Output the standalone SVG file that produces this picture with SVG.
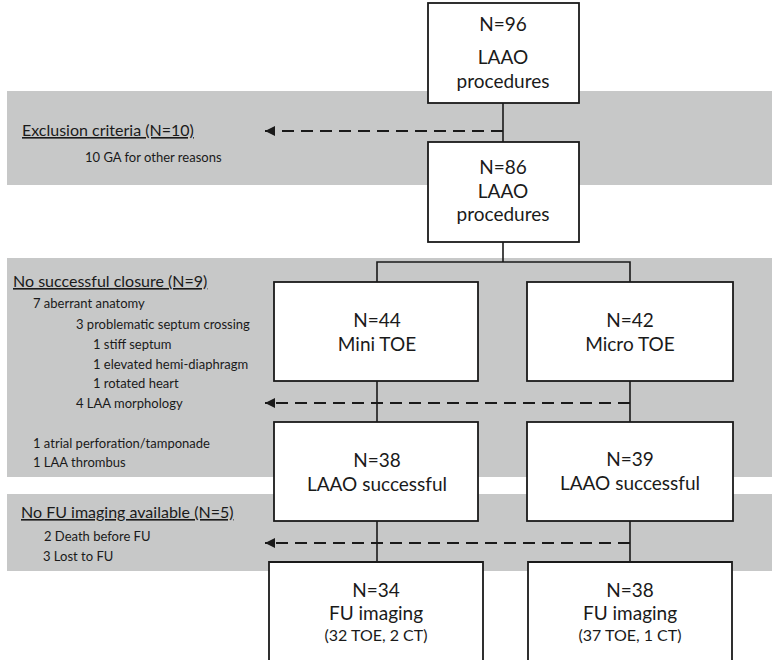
<svg xmlns="http://www.w3.org/2000/svg" width="772" height="660" viewBox="0 0 772 660">
<defs>
<style>
.band{fill:#c7c8c8}
.box{fill:#fff;stroke:#1a1a1a;stroke-width:1.8}
.t{font-family:Lato,"Liberation Sans",sans-serif;fill:#1a1a1a}
.bt{font-size:19px;text-anchor:middle}
.st{font-size:16px;text-anchor:middle}
.h{font-size:16px;text-decoration:underline}
.s{font-size:13px}
.ln{stroke:#1a1a1a;stroke-width:1.6;fill:none}
.dash{stroke:#1a1a1a;stroke-width:2;stroke-dasharray:12 7;fill:none}
</style>
<marker id="ah" viewBox="0 0 10 10" refX="10" refY="5" markerWidth="10" markerHeight="10" markerUnits="userSpaceOnUse" orient="auto">
<path d="M0,0 L10,5 L0,10 z" fill="#1a1a1a"/>
</marker>
</defs>
<g id="bands">
<rect class="band" x="7" y="91" width="765" height="94"/>
<rect class="band" x="7" y="258" width="765" height="219"/>
<rect class="band" x="7" y="494" width="765" height="77"/>
</g>
<g id="connectors">
<line class="ln" x1="503" y1="103" x2="503" y2="142"/>
<line class="dash" x1="503" y1="131" x2="265" y2="131" marker-end="url(#ah)"/>
<polyline class="ln" points="503,242 503,262"/>
<polyline class="ln" points="377,282 377,262 630,262 630,282"/>
<line class="ln" x1="377" y1="381" x2="377" y2="422"/>
<line class="ln" x1="630" y1="381" x2="630" y2="422"/>
<line class="dash" x1="630" y1="403" x2="265" y2="403" marker-end="url(#ah)"/>
<line class="ln" x1="377" y1="521" x2="377" y2="562"/>
<line class="ln" x1="630" y1="521" x2="630" y2="562"/>
<line class="dash" x1="630" y1="543" x2="265" y2="543" marker-end="url(#ah)"/>
</g>
<g id="n96">
<rect class="box" x="428" y="3" width="151" height="100"/>
<text class="t bt" x="503" y="31">N=96</text>
<text class="t bt" x="503" y="64">LAAO</text>
<text class="t bt" x="503" y="88">procedures</text>
</g>
<g id="n86">
<rect class="box" x="428" y="142" width="151" height="100"/>
<text class="t bt" x="503" y="174">N=86</text>
<text class="t bt" x="503" y="198">LAAO</text>
<text class="t bt" x="503" y="221">procedures</text>
</g>
<g id="n44">
<rect class="box" x="274" y="282" width="204" height="99"/>
<text class="t bt" x="377" y="327">N=44</text>
<text class="t bt" x="377" y="351">Mini TOE</text>
</g>
<g id="n42">
<rect class="box" x="527" y="282" width="206" height="99"/>
<text class="t bt" x="630" y="327">N=42</text>
<text class="t bt" x="630" y="351">Micro TOE</text>
</g>
<g id="n38a">
<rect class="box" x="274" y="422" width="204" height="99"/>
<text class="t bt" x="377" y="467">N=38</text>
<text class="t bt" x="377" y="491">LAAO successful</text>
</g>
<g id="n39">
<rect class="box" x="527" y="422" width="206" height="99"/>
<text class="t bt" x="630" y="466">N=39</text>
<text class="t bt" x="630" y="490">LAAO successful</text>
</g>
<g id="n34">
<path class="box" d="M269,662 L269,562 L483,562 L483,662"/>
<text class="t bt" x="376" y="597">N=34</text>
<text class="t bt" x="376" y="620">FU imaging</text>
<text class="t st" x="376" y="641">(32 TOE, 2 CT)</text>
</g>
<g id="n38b">
<path class="box" d="M528,662 L528,562 L732,562 L732,662"/>
<text class="t bt" x="630" y="597">N=38</text>
<text class="t bt" x="630" y="620">FU imaging</text>
<text class="t st" x="630" y="641">(37 TOE, 1 CT)</text>
</g>
<g id="exclusion">
<text class="t h" x="22" y="136">Exclusion criteria (N=10)</text>
<text class="t s" x="85" y="162">10 GA for other reasons</text>
</g>
<g id="noclosure">
<text class="t h" x="13" y="287">No successful closure (N=9)</text>
<text class="t s" x="33" y="308">7 aberrant anatomy</text>
<text class="t s" x="76" y="329">3 problematic septum crossing</text>
<text class="t s" x="93" y="349">1 stiff septum</text>
<text class="t s" x="93" y="369">1 elevated hemi-diaphragm</text>
<text class="t s" x="93" y="388">1 rotated heart</text>
<text class="t s" x="76" y="408">4 LAA morphology</text>
<text class="t s" x="33" y="448">1 atrial perforation/tamponade</text>
<text class="t s" x="33" y="467">1 LAA thrombus</text>
</g>
<g id="nofu">
<text class="t h" x="21" y="518">No FU imaging available (N=5)</text>
<text class="t s" x="44" y="541">2 Death before FU</text>
<text class="t s" x="43" y="561">3 Lost to FU</text>
</g>
</svg>
